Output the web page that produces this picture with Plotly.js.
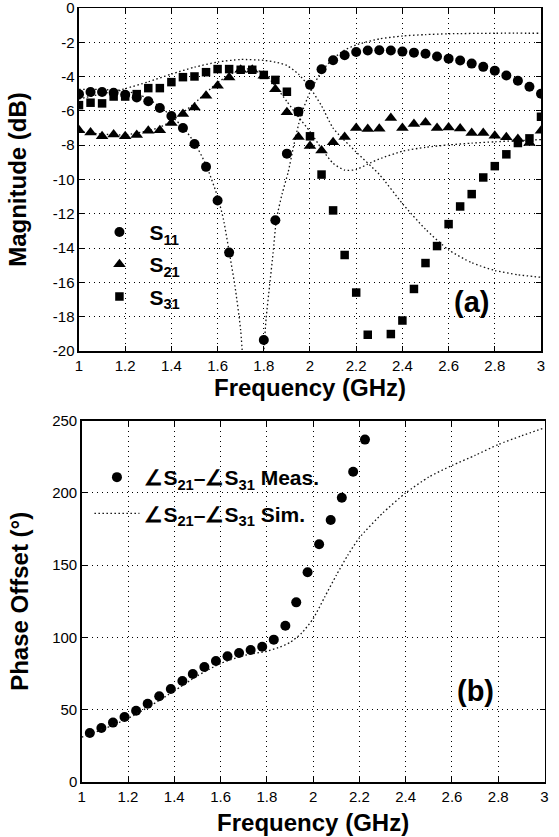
<!DOCTYPE html>
<html>
<head>
<meta charset="utf-8">
<script src="https://cdn.plot.ly/plotly-3.0.1.min.js"></script>
<style>html,body{margin:0;padding:0;background:#fff}#plot{width:559px;height:837px}</style>
</head>
<body>
<div id="plot"></div>
<script>
// ---------- (a) Magnitude: measured ----------
const freqMeas = [1.00,1.05,1.10,1.15,1.20,1.25,1.30,1.35,1.40,1.45,1.50,1.55,1.60,1.65,1.70,1.75,1.80,1.85,1.90,1.95,
                  2.00,2.05,2.10,2.15,2.20,2.25,2.30,2.35,2.40,2.45,2.50,2.55,2.60,2.65,2.70,2.75,2.80,2.85,2.90,2.95,3.00];
const s11Meas = [-5.02,-4.90,-4.90,-4.94,-5.06,-5.21,-5.44,-5.83,-6.30,-7.00,-7.93,-9.26,-11.22,-14.26,null,null,-19.36,-12.37,-8.49,-6.05,
                 -4.48,-3.57,-3.04,-2.75,-2.56,-2.48,-2.46,-2.48,-2.54,-2.60,-2.67,-2.83,-2.95,-3.06,-3.24,-3.43,-3.65,-3.93,-4.24,-4.59,-5.00];
const s21Meas = [-7.13,-7.25,-7.48,-7.37,-7.48,-7.40,-7.15,-7.13,-6.70,-6.18,-5.80,-5.12,-4.53,-4.05,-3.60,-3.60,-3.95,-4.73,-6.08,-7.52,
                 -8.04,-8.31,-7.83,-7.52,-7.00,-7.06,-7.04,-6.41,-7.00,-6.76,-6.67,-7.00,-6.96,-7.02,-7.29,-7.29,-7.44,-7.54,-7.64,-7.87,-7.15];
const s31Meas = [-5.66,-5.52,-5.56,-5.16,-5.16,-5.02,-4.67,-4.67,-4.32,-4.03,-3.99,-3.74,-3.56,-3.56,-3.60,-3.60,-3.90,-4.19,-4.88,-6.05,
                 -7.48,-9.71,-11.80,-14.40,-16.59,-19.05,null,-19.01,-18.22,-16.38,-14.87,-13.88,-12.60,-11.57,-10.85,-9.88,-9.22,-8.53,-7.87,-7.60,-6.34];

// ---------- (a) Magnitude: simulated ----------
const freqS11Sim = [1.0,1.1,1.2,1.25,1.3,1.35,1.4,1.45,1.5,1.55,1.6,1.625,1.65,1.675,1.70,1.72,1.75,1.78,1.80,1.81,1.825,1.84,1.855,1.88,1.905,1.93,1.96,2.0,2.05,2.1,2.15,2.2,2.3,2.4,2.5,2.6,2.8,3.0];
const s11Sim = [-4.75,-4.75,-4.85,-5.0,-5.3,-5.75,-6.3,-6.95,-7.85,-9.15,-11.0,-12.3,-14.2,-16.2,-18.8,-23,-30,-23,-20,-18.1,-16.2,-14.3,-12.3,-10.8,-9.6,-8.0,-6.3,-4.9,-3.7,-2.95,-2.45,-2.15,-1.8,-1.63,-1.55,-1.5,-1.47,-1.47];
const freqS21Sim = [1.0,1.1,1.2,1.3,1.35,1.4,1.45,1.5,1.55,1.6,1.65,1.7,1.75,1.8,1.85,1.9,1.95,2.0,2.05,2.1,2.15,2.2,2.25,2.3,2.4,2.5,2.6,2.7,2.8,2.9,3.0];
const s21Sim = [-7.2,-7.35,-7.4,-7.15,-6.95,-6.6,-6.1,-5.55,-4.95,-4.35,-3.9,-3.6,-3.55,-3.8,-4.55,-5.45,-6.35,-7.2,-8.2,-9.05,-9.45,-9.42,-9.1,-8.8,-8.35,-8.12,-7.98,-7.88,-7.8,-7.73,-7.67];
const freqS31Sim = [1.0,1.1,1.2,1.3,1.4,1.5,1.6,1.7,1.8,1.85,1.9,1.95,2.0,2.05,2.1,2.2,2.3,2.4,2.5,2.6,2.7,2.8,2.9,3.0];
const s31Sim = [-5.3,-5.0,-4.7,-4.3,-3.85,-3.45,-3.15,-3.0,-3.05,-3.15,-3.35,-3.85,-4.65,-5.7,-7.0,-8.4,-9.7,-11.4,-12.9,-14.1,-14.85,-15.3,-15.55,-15.7];

// ---------- (b) Phase offset ----------
const freqPhaseMeas = [1.035,1.085,1.135,1.185,1.235,1.285,1.335,1.385,1.435,1.48,1.53,1.58,1.63,1.68,1.73,1.78,1.83,1.88,1.927,1.976,2.026,2.076,2.124,2.173,2.224];
const phaseMeas = [33.9,37.4,41.1,45.0,49.3,54.2,59.3,64.3,69.9,74.7,79.6,83.7,87.0,89.3,91.3,93.6,98.5,108.1,124.3,145.1,164.5,181.3,196.7,214.7,236.9];
const freqPhaseSim = [1.0,1.1,1.2,1.3,1.4,1.5,1.6,1.7,1.8,1.85,1.9,1.95,2.0,2.05,2.1,2.15,2.2,2.3,2.4,2.5,2.6,2.7,2.8,2.9,3.0];
const phaseSim = [31,37,44,53,63,73.5,82,87.5,90.5,93,96.5,103,113,128,143,157,169,186,200,211,219,226,233.5,239.5,245];

// ---------- ticks ----------
const freqTicks = [1,1.2,1.4,1.6,1.8,2,2.2,2.4,2.6,2.8,3];
const freqTickText = ['1','1.2','1.4','1.6','1.8','2','2.2','2.4','2.6','2.8','3'];
const magTicks = [0,-2,-4,-6,-8,-10,-12,-14,-16,-18,-20];
const magTickText = ['0','-2','-4','-6','-8','-10','-12','-14','-16','-18','-20'];
const phaseTicks = [0,50,100,150,200,250];
const phaseTickText = ['0','50','100','150','200','250'];

const FONT = 'Liberation Sans, Arial, Helvetica, sans-serif';
const simLine = {color:'#111', width:1.3, dash:'1.5px,2.5px', shape:'spline', smoothing:0.6};

const traces = [
  {x:freqS11Sim, y:s11Sim, mode:'lines', line:simLine, showlegend:false, xaxis:'x', yaxis:'y'},
  {x:freqS21Sim, y:s21Sim, mode:'lines', line:simLine, showlegend:false, xaxis:'x', yaxis:'y'},
  {x:freqS31Sim, y:s31Sim, mode:'lines', line:simLine, showlegend:false, xaxis:'x', yaxis:'y'},
  {x:freqMeas, y:s11Meas, mode:'markers', name:'S<sub>11</sub>', legendgroup:'a1', legend:'legend',
   marker:{symbol:'circle', size:10, color:'#000'}, xaxis:'x', yaxis:'y'},
  {x:freqMeas, y:s21Meas, mode:'markers', name:'S<sub>21</sub>', legendgroup:'a2', legend:'legend',
   marker:{symbol:'triangle-up', size:11, color:'#000'}, xaxis:'x', yaxis:'y'},
  {x:freqMeas, y:s31Meas, mode:'markers', name:'S<sub>31</sub>', legendgroup:'a3', legend:'legend',
   marker:{symbol:'square', size:8.5, color:'#000'}, xaxis:'x', yaxis:'y'},
  {x:freqPhaseMeas, y:phaseMeas, mode:'markers', name:'∠S<sub>21</sub>–∠S<sub>31</sub> Meas.', legendgroup:'b1', legend:'legend2',
   marker:{symbol:'circle', size:10, color:'#000'}, xaxis:'x2', yaxis:'y2'},
  {x:freqPhaseSim, y:phaseSim, mode:'lines', name:'∠S<sub>21</sub>–∠S<sub>31</sub> Sim.', legendgroup:'b2', legend:'legend2',
   line:simLine, xaxis:'x2', yaxis:'y2'}
];

const axBase = {
  showline:true, linecolor:'#000', linewidth:1.5, mirror:'allticks',
  ticks:'inside', ticklen:5, tickwidth:1, tickcolor:'#000',
  showgrid:true, gridcolor:'#000', gridwidth:1, griddash:'1px,4px',
  zeroline:false, tickfont:{family:FONT, size:15, color:'#000'},
  tickmode:'array', ticklabeloverflow:'allow'
};
const titleFont = {family:FONT, size:24, color:'#000', weight:'bold'};

const layout = {
  width:559, height:837, margin:{l:0,r:0,t:0,b:0},
  paper_bgcolor:'#fff', plot_bgcolor:'#fff', font:{family:FONT, color:'#000'},
  xaxis: Object.assign({}, axBase, {domain:[0.1413,0.9678], range:[1,3], anchor:'y',
    tickvals:freqTicks, ticktext:freqTickText, title:{text:'Frequency (GHz)', font:titleFont, standoff:0}}),
  yaxis: Object.assign({}, axBase, {domain:[0.5806,0.9904], range:[-20,0], anchor:'x',
    tickvals:magTicks, ticktext:magTickText, title:{text:'Magnitude (dB)', font:titleFont, standoff:19}}),
  xaxis2: Object.assign({}, axBase, {domain:[0.1462,0.9741], range:[1,3], anchor:'y2',
    tickvals:freqTicks, ticktext:freqTickText, title:{text:'Frequency (GHz)', font:titleFont, standoff:10}}),
  yaxis2: Object.assign({}, axBase, {domain:[0.0657,0.4974], range:[0,250], anchor:'x2',
    tickvals:phaseTicks, ticktext:phaseTickText, title:{text:'Phase Offset (°)', font:titleFont, standoff:17}}),
  legend:{x:0.16, y:0.747, xanchor:'left', yanchor:'top', bgcolor:'rgba(0,0,0,0)', borderwidth:0,
    font:{family:FONT, size:21, color:'#000', weight:'bold'}, itemwidth:50, tracegroupgap:2},
  legend2:{x:0.16, y:0.454, xanchor:'left', yanchor:'top', bgcolor:'rgba(0,0,0,0)', borderwidth:0,
    font:{family:FONT, size:21, color:'#000', weight:'bold'}, itemwidth:45, tracegroupgap:6},
  annotations:[
    {text:'<b>(a)</b>', x:2.70, y:-17.15, xref:'x', yref:'y', showarrow:false, font:{family:FONT, size:29, color:'#000'}},
    {text:'<b>(b)</b>', x:2.70, y:63, xref:'x2', yref:'y2', showarrow:false, font:{family:FONT, size:29, color:'#000'}}
  ]
};

Plotly.newPlot('plot', traces, layout, {staticPlot:true, displayModeBar:false});
</script>
</body>
</html>
